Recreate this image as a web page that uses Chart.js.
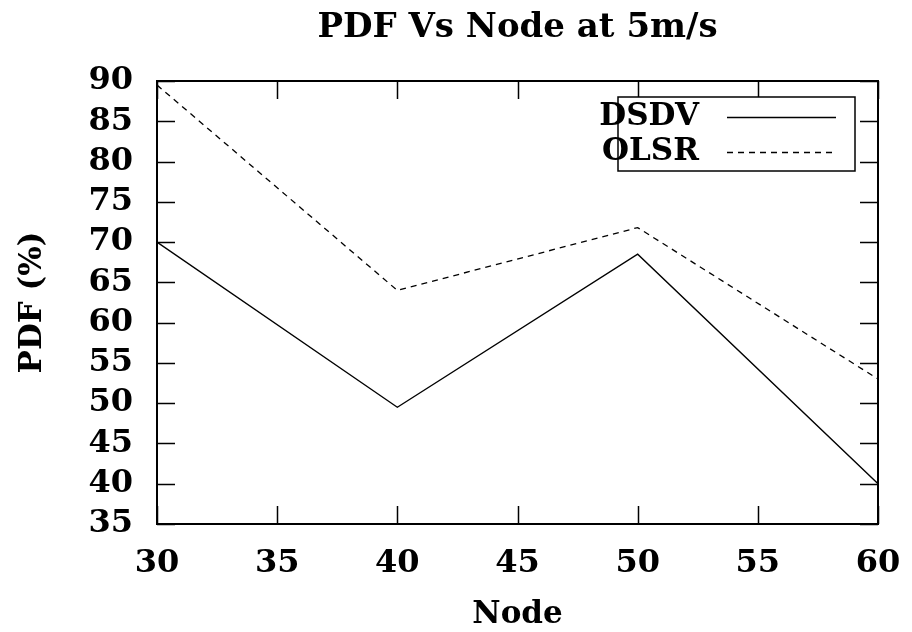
<!DOCTYPE html>
<html>
<head>
<meta charset="utf-8">
<script src="https://cdn.jsdelivr.net/npm/chart.js@4/dist/chart.umd.min.js"></script>
<style>
  html, body { margin: 0; padding: 0; background: #fff; }
  #wrap { width: 912px; height: 632px; }
</style>
</head>
<body>
<div id="wrap"><canvas id="pdfChart" width="912" height="632"></canvas></div>
<script>
// Node counts and packet delivery fraction per protocol
const nodes = [30, 40, 50, 60];
const dsdv = [70, 49.5, 68.5, 40];
const olsr = [89.5, 64, 71.8, 53];
const xTicks = [30, 35, 40, 45, 50, 55, 60];
const yTicks = [35, 40, 45, 50, 55, 60, 65, 70, 75, 80, 85, 90];

const serif = "'DejaVu Serif', serif";

const toPoints = (xs, ys) => xs.map((x, i) => ({ x: x, y: ys[i] }));

// border box, inward ticks on all four sides, title and legend box
const framePlugin = {
  id: 'frame',
  afterDraw(chart) {
    const { ctx, chartArea: a, scales } = chart;
    ctx.save();
    ctx.strokeStyle = '#000';
    ctx.lineWidth = 1.5;
    const tl = 18;
    ctx.beginPath();
    xTicks.forEach(v => {
      const px = Math.round(scales.x.getPixelForValue(v)) + 0.5;
      ctx.moveTo(px, a.bottom); ctx.lineTo(px, a.bottom - tl);
      ctx.moveTo(px, a.top); ctx.lineTo(px, a.top + tl);
    });
    yTicks.forEach(v => {
      const py = Math.round(scales.y.getPixelForValue(v)) + 0.5;
      ctx.moveTo(a.left, py); ctx.lineTo(a.left + tl, py);
      ctx.moveTo(a.right, py); ctx.lineTo(a.right - tl, py);
    });
    ctx.stroke();
    ctx.lineWidth = 2;
    ctx.strokeRect(a.left, a.top, a.right - a.left, a.bottom - a.top);

    // title over the plot area
    ctx.fillStyle = '#000';
    ctx.font = 'bold 34px ' + serif;
    ctx.textAlign = 'center';
    ctx.textBaseline = 'middle';
    ctx.fillText('PDF Vs Node at 5m/s', (a.left + a.right) / 2, 28);

    // legend
    const bx = a.right - 260, by = a.top + 16, bw = 237, bh = 74;
    ctx.fillStyle = '#fff';
    ctx.fillRect(bx, by, bw, bh);
    ctx.lineWidth = 1.5;
    ctx.strokeRect(bx, by, bw, bh);
    ctx.fillStyle = '#000';
    ctx.font = 'bold 31px ' + serif;
    ctx.textAlign = 'right';
    chart.data.datasets.forEach((ds, i) => {
      const cy = by + 20 + i * 35;
      ctx.fillText(ds.label, bx + 81, cy);
      ctx.beginPath();
      ctx.setLineDash(ds.borderDash || []);
      ctx.lineWidth = 1.3;
      ctx.moveTo(bx + 109, cy + 0.5);
      ctx.lineTo(bx + 218, cy + 0.5);
      ctx.stroke();
    });
    ctx.restore();
  }
};

new Chart(document.getElementById('pdfChart'), {
  type: 'line',
  data: {
    datasets: [
      {
        label: 'DSDV',
        data: toPoints(nodes, dsdv),
        borderColor: '#000',
        borderWidth: 1.3,
        pointRadius: 0,
        tension: 0
      },
      {
        label: 'OLSR',
        data: toPoints(nodes, olsr),
        borderColor: '#000',
        borderWidth: 1.3,
        borderDash: [6, 5],
        pointRadius: 0,
        tension: 0
      }
    ]
  },
  options: {
    responsive: false,
    animation: false,
    layout: { padding: { top: 81, right: 34, left: 10, bottom: 0 } },
    plugins: {
      legend: { display: false },
      title: { display: false },
      tooltip: { enabled: false }
    },
    scales: {
      x: {
        type: 'linear',
        min: 30,
        max: 60,
        afterBuildTicks: s => { s.ticks = xTicks.map(v => ({ value: v })); },
        afterFit: s => {
          s.height = 632 - 524;
          s.paddingLeft = 0;
          s.paddingRight = 0;
        },
        grid: { display: false, drawTicks: false },
        border: { display: false },
        ticks: {
          color: '#000',
          padding: 20,
          autoSkip: false,
          maxRotation: 0,
          font: { family: serif, size: 32, weight: 'bold' }
        },
        title: {
          display: true,
          text: 'Node',
          color: '#000',
          padding: { top: 12, bottom: 2 },
          font: { family: serif, size: 31, weight: 'bold', lineHeight: 1 }
        }
      },
      y: {
        min: 35,
        max: 90,
        afterBuildTicks: s => { s.ticks = yTicks.map(v => ({ value: v })); },
        afterFit: s => {
          s.width = 157 - 10;
          s.paddingTop = 0;
          s.paddingBottom = 0;
        },
        grid: { display: false, drawTicks: false },
        border: { display: false },
        ticks: {
          color: '#000',
          padding: 24,
          autoSkip: false,
          font: { family: serif, size: 32, weight: 'bold' }
        },
        title: {
          display: true,
          text: 'PDF (%)',
          color: '#000',
          padding: { bottom: 4 },
          font: { family: serif, size: 31, weight: 'bold' }
        }
      }
    }
  },
  plugins: [framePlugin]
});
</script>
</body>
</html>
